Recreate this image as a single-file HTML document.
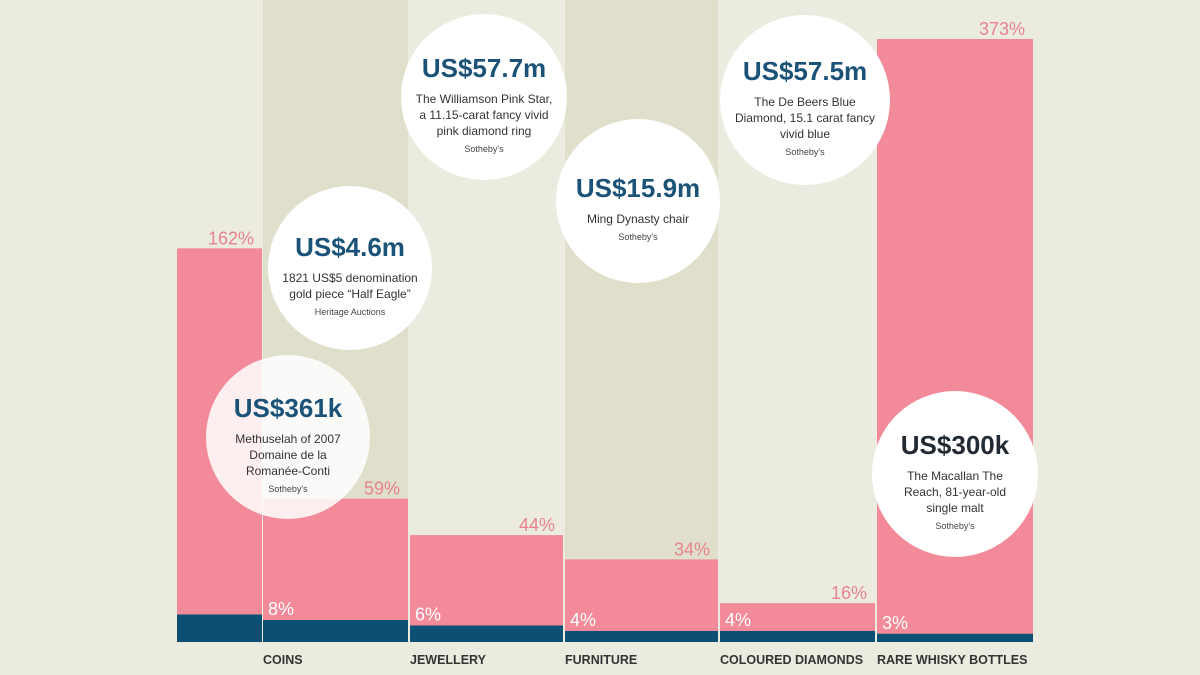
<!DOCTYPE html>
<html><head><meta charset="utf-8"><style>
body{margin:0;width:1200px;height:675px;overflow:hidden;background:#ecebdf;font-family:"Liberation Sans",sans-serif}
</style></head><body>
<svg width="1200" height="675" style="display:block">
<g id="bands"></g><g id="bars"></g><g id="circles"></g>
</svg>
<script>
const categories=["WINE","COINS","JEWELLERY","FURNITURE","COLOURED DIAMONDS","RARE WHISKY BOTTLES"];
const showLabel=[false,true,true,true,true,true];
const growthValues=[162,59,44,34,16,373];
const annualValues=[10,8,6,4,4,3];
const annualLabels=["","8%","6%","4%","4%","3%"];
const bandFlags=[false,true,false,true,false,false];
const xLeft=[177,263,410,565,720,877];
const xRight=[262,408,563,718,875,1033];
const base=642;
function yGrowth(v){return base-Math.min(v*2.43,603);}
function yAnnual(v){return base-v*2.75;}
const NS="http://www.w3.org/2000/svg";
function mk(t,a,p){const e=document.createElementNS(NS,t);for(const k in a)e.setAttribute(k,a[k]);p.appendChild(e);return e;}
const bands=document.getElementById('bands'),bars=document.getElementById('bars'),circ=document.getElementById('circles');
categories.forEach((c,i)=>{
 const w=xRight[i]-xLeft[i];
 if(bandFlags[i]){const b=mk('rect',{x:xLeft[i],y:0,width:w,height:base,fill:'#dfdfcc'},bands);
  }
 const yg=yGrowth(growthValues[i]);
 const p=mk('rect',{x:xLeft[i],y:yg,width:w,height:base-yg,fill:'#f28a99'},bars);
 
 const ya=yAnnual(annualValues[i]);
 const n=mk('rect',{x:xLeft[i],y:ya,width:w,height:base-ya,fill:'#0b4f74'},bars);
 
 const gl=mk('text',{x:xRight[i]-8,y:yg-4,'text-anchor':'end','font-size':18,fill:'#e8838f'},bars);gl.textContent=growthValues[i]+'%';
 
 if(annualLabels[i]){const al=mk('text',{x:xLeft[i]+5,y:ya-5,'font-size':18,fill:'#fff'},bars);al.textContent=annualLabels[i];
  }
 if(showLabel[i]){const cl=mk('text',{x:xLeft[i],y:664,'font-size':12.5,'font-weight':'bold',fill:'#333'},bars);cl.textContent=c;
  }
});
const bubbles=[
 [350,268,82,1,"US$4.6m",["1821 US$5 denomination","gold piece “Half Eagle”"],"Heritage Auctions",'#1a5278'],
 [288,437,82,0.85,"US$361k",["Methuselah of 2007","Domaine de la","Romanée-Conti"],"Sotheby's",'#1a5278'],
 [484,97,83,1,"US$57.7m",["The Williamson Pink Star,","a 11.15-carat fancy vivid","pink diamond ring"],"Sotheby's",'#1a5278'],
 [638,201,82,1,"US$15.9m",["Ming Dynasty chair"],"Sotheby's",'#1a5278'],
 [805,100,85,1,"US$57.5m",["The De Beers Blue","Diamond, 15.1 carat fancy","vivid blue"],"Sotheby's",'#1a5278'],
 [955,474,83,1,"US$300k",["The Macallan The","Reach, 81-year-old","single malt"],"Sotheby's",'#222a33']];
bubbles.forEach(b=>{
 const g=mk('g',{},circ);
 mk('circle',{cx:b[0],cy:b[1],r:b[2],fill:'#fff','fill-opacity':b[3]},g);
 const n=b[5].length;let y=b[1]-(n*16+28)/2+18;
 const t=mk('text',{x:b[0],y:y,'text-anchor':'middle','font-size':26,'font-weight':'bold',fill:b[7]},g);t.textContent=b[4];
 y+=26;
 b[5].forEach(l=>{const d=mk('text',{x:b[0],y:y,'text-anchor':'middle','font-size':12,fill:'#333'},g);d.textContent=l;y+=16;});
 const s=mk('text',{x:b[0],y:y+1,'text-anchor':'middle','font-size':9,fill:'#444'},g);s.textContent=b[6];
});
</script>
</body></html>
